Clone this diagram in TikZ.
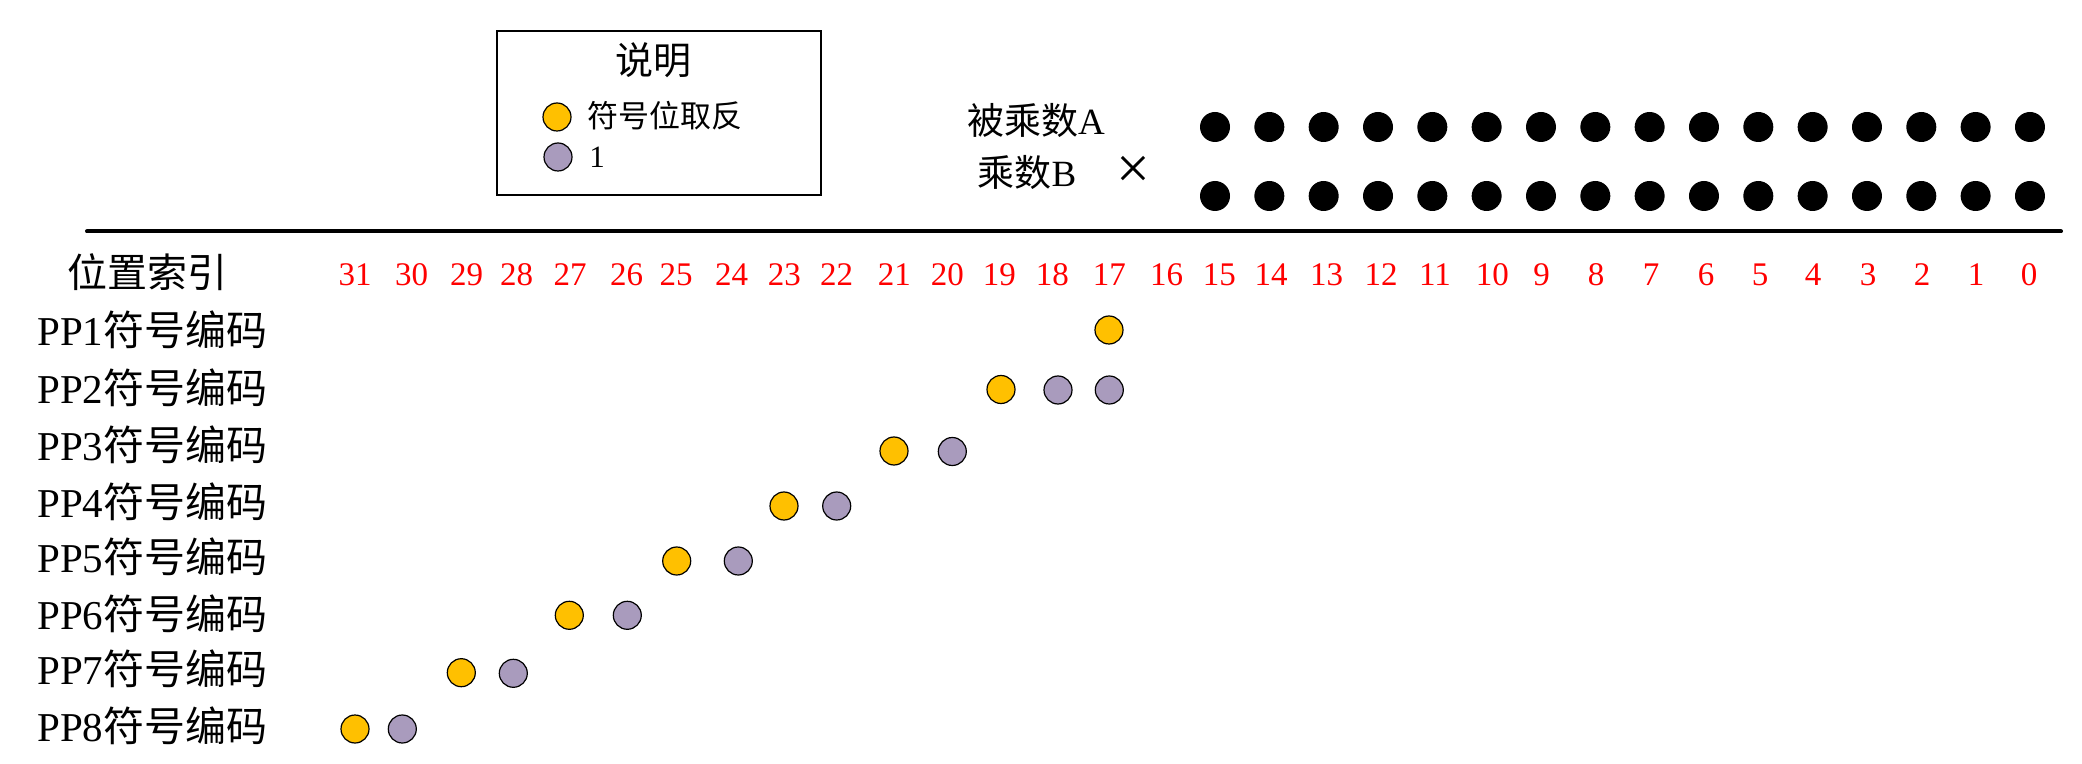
\documentclass[tikz,border=0pt]{standalone}
\usepackage{fontspec}
\setmainfont{Liberation Serif}
\newfontfamily\cjk{Noto Sans CJK SC}
\newcommand{\zhtext}[1]{{\cjk #1}}
\definecolor{signgold}{RGB}{255,192,0}
\definecolor{onepurple}{RGB}{169,155,189}
\begin{document}
\begin{tikzpicture}[x=0.5pt,y=-0.5pt,
  lbl/.style={inner sep=0pt,font=\fontsize{20.5pt}{24pt}\selectfont},
  idx/.style={inner sep=0pt,text=red,font=\fontsize{16.5pt}{19pt}\selectfont},
  bdot/.style={circle,fill=black,inner sep=0pt,minimum size=15pt},
  sgn/.style={circle,draw=black,line width=0.6pt,fill=signgold,inner sep=0pt,minimum size=14pt},
  one/.style={circle,draw=black,line width=0.6pt,fill=onepurple,inner sep=0pt,minimum size=14pt},
  legtxt/.style={inner sep=0pt,anchor=west,font=\fontsize{15.5pt}{18pt}\selectfont},
  optxt/.style={inner sep=0pt,font=\fontsize{18.5pt}{22pt}\selectfont},
]
\useasboundingbox (0,0) rectangle (2082,764);

% legend
\node[draw,line width=1.3pt,minimum width=162pt,minimum height=82pt,inner sep=0pt] (legend) at (659,113) {};
\node[inner sep=0pt,font=\cjk\fontsize{19pt}{22pt}\selectfont] (legtitle) at (653,60) {说明};
\node[sgn] (legsgn) at (557,117) {};
\node[one] (legone) at (558,157) {};
\node[legtxt] (legsgntxt) at (587,116) {\zhtext{符号位取反}};
\node[legtxt] (legonetxt) at (589,157) {1};

% operands
\node[optxt] (multA) at (1036,120) {\zhtext{被乘数}A};
\node[optxt] (multB) at (1027,172) {\zhtext{乘数}B};
\node[inner sep=0pt,font=\fontsize{30pt}{34pt}\selectfont] (times) at (1133,172) {×};

\foreach \k in {0,...,15}{
  \pgfmathsetmacro\xx{1215+54.33*\k}
  \pgfmathtruncatemacro\bit{15-\k}
  \node[bdot] (a\bit) at (\xx,127) {};
  \node[bdot] (b\bit) at (\xx,196) {};
}

% separator line
\coordinate (lineL) at (87,231.5);
\coordinate (lineR) at (2061,231.5);
\draw[line width=2pt,line cap=round] (lineL) -- (lineR);

% index row
\node[inner sep=0pt,font=\cjk\fontsize{20pt}{24pt}\selectfont] (hdr) at (147.5,272) {位置索引};
\foreach \b/\x in {31/355,30/411.7,29/466.7,28/516.7,27/570,26/626.7,25/676,24/731.7,
  23/784.3,22/836.7,21/894.3,20/947.3,19/999.3,18/1052.3,17/1109.3,16/1166.7,
  15/1219.3,14/1271,13/1326.5,12/1381,11/1435,10/1492.4,9/1541.6,8/1596,
  7/1651,6/1706,5/1760,4/1813,3/1868,2/1922,1/1976,0/2029}
  \node[idx] (n\b) at (\x,275) {\b};

% PP rows
\foreach \i/\y in {1/330,2/388,3/445,4/502,5/557,6/614,7/669,8/726}
  \node[lbl,anchor=west] (pp\i) at (37,\y) {PP\i\zhtext{符号编码}};

\node[sgn] (p1s) at (1109,330) {};
\node[sgn] (p2s) at (1001,389.5) {};
\node[one] (p2a) at (1058,390) {};
\node[one] (p2b) at (1109.3,390) {};
\node[sgn] (p3s) at (894,451) {};
\node[one] (p3a) at (952.3,451.5) {};
\node[sgn] (p4s) at (784,506) {};
\node[one] (p4a) at (836.7,506) {};
\node[sgn] (p5s) at (676.7,561) {};
\node[one] (p5a) at (738.3,561) {};
\node[sgn] (p6s) at (569.3,615.3) {};
\node[one] (p6a) at (627.3,615.3) {};
\node[sgn] (p7s) at (461.3,672.7) {};
\node[one] (p7a) at (513.3,673.3) {};
\node[sgn] (p8s) at (355,729) {};
\node[one] (p8a) at (402.3,729) {};
\end{tikzpicture}
\end{document}
